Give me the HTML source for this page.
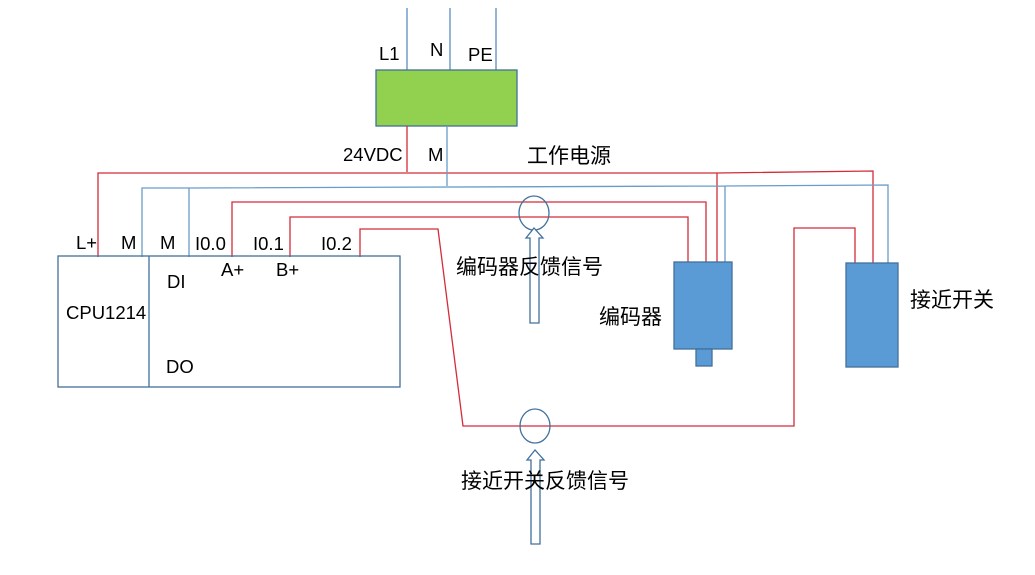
<!DOCTYPE html>
<html><head><meta charset="utf-8"><style>
body{margin:0;background:#fff;}
svg text{font-family:"Liberation Sans","Noto Sans CJK SC",sans-serif;fill:#000;}
.c{font-family:"Noto Sans CJK SC","WenQuanYi Zen Hei",sans-serif !important;}
</style></head><body>
<svg width="1035" height="570" viewBox="0 0 1035 570" xmlns="http://www.w3.org/2000/svg">
<g fill="none" stroke-width="1.3">
<path d="M407 8V70M450 8V70M496 8V70" stroke="#5b8fc0"/>
<rect x="376" y="70" width="141" height="56" fill="#92d050" stroke="#41719c"/>
<path d="M407 126V172M98 257V173H717V262M717 173L873 171V263" stroke="#d42b3a"/>
<path d="M447 126V186M142 257V188H189V257M189 188L725 186V262M725 186L888 185V263" stroke="#6a9cc9"/>
<path d="M232 257V202H706V262" stroke="#d42b3a"/>
<path d="M290 257V217H688V262" stroke="#d42b3a"/>
<path d="M360 257V229H438L463 426H794V228H855V263" stroke="#d42b3a"/>
<rect x="58" y="256" width="342" height="131" stroke="#41719c"/>
<path d="M149 256V387" stroke="#41719c"/>
<rect x="674" y="262" width="58" height="87" fill="#5b9bd5" stroke="#41719c"/>
<rect x="696" y="349" width="16" height="17" fill="#5b9bd5" stroke="#41719c"/>
<rect x="846" y="263" width="52" height="104" fill="#5b9bd5" stroke="#41719c"/>
<ellipse cx="534" cy="213" rx="15" ry="17" stroke="#41719c"/>
<ellipse cx="535" cy="426" rx="15" ry="17" stroke="#41719c"/>
<path d="M530 323V238H526L534 228L543 238H539V323Z" stroke="#41719c" fill="#fff"/>
<path d="M531 544V460H527L535 450L544 460H540V544Z" stroke="#41719c" fill="#fff"/>
</g>
<g font-size="18.5">
<text x="379" y="60">L1</text><text x="430" y="56">N</text><text x="468" y="61">PE</text>
<text x="343" y="161">24VDC</text><text x="428" y="161">M</text>
<text x="76" y="249">L+</text><text x="121" y="249">M</text><text x="160" y="249">M</text>
<text x="195" y="250">I0.0</text><text x="253" y="250">I0.1</text><text x="321" y="250">I0.2</text>
<text x="221" y="276">A+</text><text x="276" y="276">B+</text>
<text x="167" y="288">DI</text><text x="66" y="319">CPU1214</text><text x="166" y="373">DO</text>
</g>
<g font-size="21" class="c">
<text class="c" x="527" y="163">工作电源</text>
<text class="c" x="456" y="274">编码器反馈信号</text>
<text class="c" x="599" y="324">编码器</text>
<text class="c" x="910" y="307">接近开关</text>
<text class="c" x="461" y="488">接近开关反馈信号</text>
</g>
</svg>
</body></html>
